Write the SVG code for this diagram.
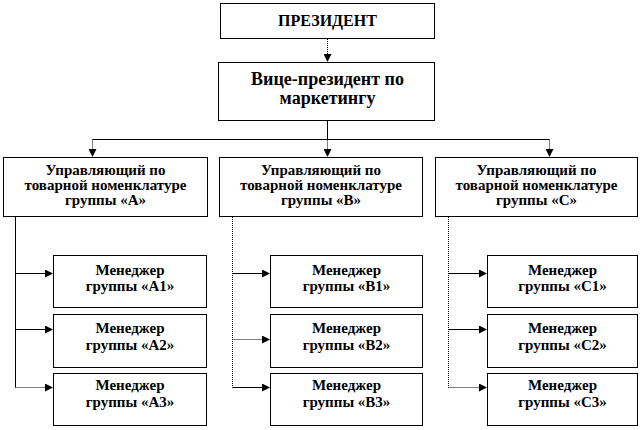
<svg xmlns="http://www.w3.org/2000/svg" width="642" height="430" viewBox="0 0 642 430">
<defs>
<marker id="ah" markerWidth="8" markerHeight="8" refX="7" refY="4" orient="auto" markerUnits="userSpaceOnUse">
<path d="M0,0 L8,4 L0,8 Z" fill="#000"/>
</marker>
<style>
.box{fill:#fff;stroke:#000;stroke-width:1}
text{font-family:'Liberation Serif','Times New Roman',Times,serif;font-weight:700;fill:#000;text-anchor:middle}
.s15{font-size:15px}
.s16{font-size:16px}
.s18{font-size:18px}
.ln{fill:none;stroke:#000;stroke-width:1}
.ld{fill:none;stroke:#000;stroke-width:1;stroke-dasharray:1,1}
.ar{marker-end:url(#ah)}
</style>
</defs>
<rect width="642" height="430" fill="#fff"/>
<g id="connectors">
<path class="ld ar" d="M327.5,39 V61"/>
<path class="ln" d="M327.5,121 V139.5"/>
<path class="ln" d="M92.5,139.5 H549.5"/>
<path class="ld ar" d="M92.5,139.5 V156"/>
<path class="ld ar" d="M327.5,139.5 V156"/>
<path class="ld ar" d="M549.5,139.5 V156"/>
<path class="ln" d="M15.5,217 V387.5"/>
<path class="ln ar" d="M15.5,273.5 H52"/>
<path class="ln ar" d="M15.5,329.5 H52"/>
<path class="ld ar" d="M15.5,387.5 H52"/>
<path class="ld" d="M232.5,217 V387.5"/>
<path class="ln ar" d="M232.5,273.5 H269"/>
<path class="ld ar" d="M232.5,339.5 H269"/>
<path class="ln ar" d="M232.5,387.5 H269"/>
<path class="ld" d="M448.5,217 V387.5"/>
<path class="ln ar" d="M448.5,273.5 H486"/>
<path class="ln ar" d="M448.5,329.5 H486"/>
<path class="ld ar" d="M448.5,387.5 H486"/>
</g>
<g id="president">
<rect class="box" x="220.5" y="3.5" width="214" height="35"/>
<text class="s16" x="327.5" y="26" font-family="Liberation Serif, serif">ПРЕЗИДЕНТ</text>
</g>
<g id="vp">
<rect class="box" x="218.5" y="62.5" width="216" height="58"/>
<text class="s18" x="327.5" y="85">Вице-президент по</text>
<text class="s18" x="327.5" y="104">маркетингу</text>
</g>
<g id="groupA">
<rect class="box" x="3.5" y="157.5" width="204" height="59"/>
<text class="s15" x="105.5" y="175">Управляющий по</text>
<text class="s15" x="105.5" y="190">товарной номенклатуре</text>
<text class="s15" x="105.5" y="205">группы «А»</text>
</g>
<g id="groupB">
<rect class="box" x="219.5" y="157.5" width="203" height="59"/>
<text class="s15" x="321" y="175">Управляющий по</text>
<text class="s15" x="321" y="190">товарной номенклатуре</text>
<text class="s15" x="321" y="205">группы «В»</text>
</g>
<g id="groupC">
<rect class="box" x="435.5" y="157.5" width="202" height="59"/>
<text class="s15" x="536.5" y="175">Управляющий по</text>
<text class="s15" x="536.5" y="190">товарной номенклатуре</text>
<text class="s15" x="536.5" y="205">группы «С»</text>
</g>
<g id="A1">
<rect class="box" x="53.5" y="255.5" width="153" height="52"/>
<text class="s15" x="130" y="275">Менеджер</text>
<text class="s15" x="130" y="291">группы «А1»</text>
</g>
<g id="A2">
<rect class="box" x="53.5" y="314.5" width="153" height="53"/>
<text class="s15" x="130" y="333">Менеджер</text>
<text class="s15" x="130" y="350">группы «А2»</text>
</g>
<g id="A3">
<rect class="box" x="53.5" y="373.5" width="153" height="52"/>
<text class="s15" x="130" y="390">Менеджер</text>
<text class="s15" x="130" y="407">группы «А3»</text>
</g>
<g id="B1">
<rect class="box" x="270.5" y="255.5" width="152" height="52"/>
<text class="s15" x="346.5" y="275">Менеджер</text>
<text class="s15" x="346.5" y="291">группы «В1»</text>
</g>
<g id="B2">
<rect class="box" x="270.5" y="314.5" width="152" height="53"/>
<text class="s15" x="346.5" y="333">Менеджер</text>
<text class="s15" x="346.5" y="350">группы «В2»</text>
</g>
<g id="B3">
<rect class="box" x="270.5" y="373.5" width="152" height="52"/>
<text class="s15" x="346.5" y="390">Менеджер</text>
<text class="s15" x="346.5" y="407">группы «В3»</text>
</g>
<g id="C1">
<rect class="box" x="487.5" y="255.5" width="150" height="52"/>
<text class="s15" x="562.5" y="275">Менеджер</text>
<text class="s15" x="562.5" y="291">группы «С1»</text>
</g>
<g id="C2">
<rect class="box" x="487.5" y="314.5" width="150" height="53"/>
<text class="s15" x="562.5" y="333">Менеджер</text>
<text class="s15" x="562.5" y="350">группы «С2»</text>
</g>
<g id="C3">
<rect class="box" x="487.5" y="373.5" width="150" height="52"/>
<text class="s15" x="562.5" y="390">Менеджер</text>
<text class="s15" x="562.5" y="407">группы «С3»</text>
</g>
</svg>
